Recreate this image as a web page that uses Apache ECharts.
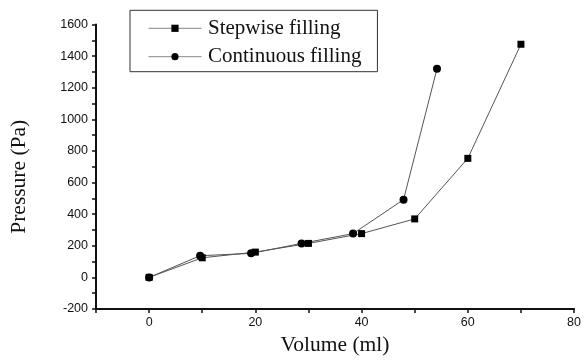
<!DOCTYPE html>
<html>
<head>
<meta charset="utf-8">
<script src="https://cdn.jsdelivr.net/npm/echarts@6/dist/echarts.min.js"></script>
<style>
  html, body { margin: 0; padding: 0; background: #fff; }
  #chart { width: 584px; height: 363px; }
</style>
</head>
<body>
<div id="chart"></div>
<script>
// Filling experiments: volume added (ml) vs. measured pressure (Pa)
var stepwiseVolume = [0, 10, 20, 30, 40, 50, 60, 70];
var stepwisePressure = [0, 124, 160, 215, 277, 370, 753, 1475];

var continuousVolume = [0, 9.6, 19.2, 28.7, 38.4, 47.9, 54.2];
var continuousPressure = [0, 137, 152, 215, 277, 492, 1320];

var seriesNames = ['Stepwise filling', 'Continuous filling'];

function pairs(xs, ys) {
  return xs.map(function (x, i) { return [x, ys[i]]; });
}

var labelFont = { fontFamily: 'Liberation Sans', fontSize: 12.5, color: '#111' };
var titleFont = { fontFamily: 'Liberation Serif', fontSize: 21.5, color: '#111' };

var chart = echarts.init(document.getElementById('chart'), null, { renderer: 'canvas' });

chart.setOption({
  animation: false,
  backgroundColor: '#fff',
  grid: { left: 96, right: 6.3, top: 24.5, bottom: 54, containLabel: false },
  legend: {
    orient: 'vertical',
    left: 130,
    top: 10.3,
    padding: [7.5, 16, 4.5, 18],
    itemGap: 7.4,
    itemWidth: 53,
    itemHeight: 9,
    borderColor: '#333',
    borderWidth: 1,
    lineStyle: { color: '#888', width: 1 },
    textStyle: {
      fontFamily: 'Liberation Serif', fontSize: 21, color: '#111', lineHeight: 21,
      padding: [0, 0, 0, 1.5]
    },
    data: seriesNames
  },
  xAxis: {
    type: 'value',
    min: -10,
    max: 80,
    interval: 10,
    name: 'Volume (ml)',
    nameLocation: 'middle',
    nameGap: 25,
    nameTextStyle: titleFont,
    splitLine: { show: false },
    axisLine: { onZero: false, lineStyle: { color: '#111', width: 2 } },
    axisTick: { inside: false, length: 4, lineStyle: { color: '#111', width: 1.5 } },
    axisLabel: Object.assign({
      margin: 7,
      formatter: function (v) { return v % 20 === 0 ? String(v) : ''; }
    }, labelFont)
  },
  yAxis: {
    type: 'value',
    min: -200,
    max: 1600,
    interval: 100,
    name: 'Pressure (Pa)',
    nameLocation: 'middle',
    nameGap: 66,
    nameTextStyle: Object.assign({ padding: [0, 20, 0, 0] }, titleFont),
    splitLine: { show: false },
    axisLine: { show: true, onZero: false, lineStyle: { color: '#111', width: 2 } },
    axisTick: { show: true, inside: false, length: 4, lineStyle: { color: '#111', width: 1.5 } },
    axisLabel: Object.assign({
      margin: 8,
      formatter: function (v) { return v % 200 === 0 ? String(v) : ''; }
    }, labelFont)
  },
  series: [
    {
      name: seriesNames[0],
      type: 'line',
      data: pairs(stepwiseVolume, stepwisePressure),
      symbol: 'rect',
      symbolSize: 7,
      showAllSymbol: true,
      lineStyle: { color: '#555', width: 1 },
      itemStyle: { color: '#000' }
    },
    {
      name: seriesNames[1],
      type: 'line',
      data: pairs(continuousVolume, continuousPressure),
      symbol: 'circle',
      symbolSize: 8,
      showAllSymbol: true,
      lineStyle: { color: '#555', width: 1 },
      itemStyle: { color: '#000' }
    }
  ]
});
</script>
</body>
</html>
